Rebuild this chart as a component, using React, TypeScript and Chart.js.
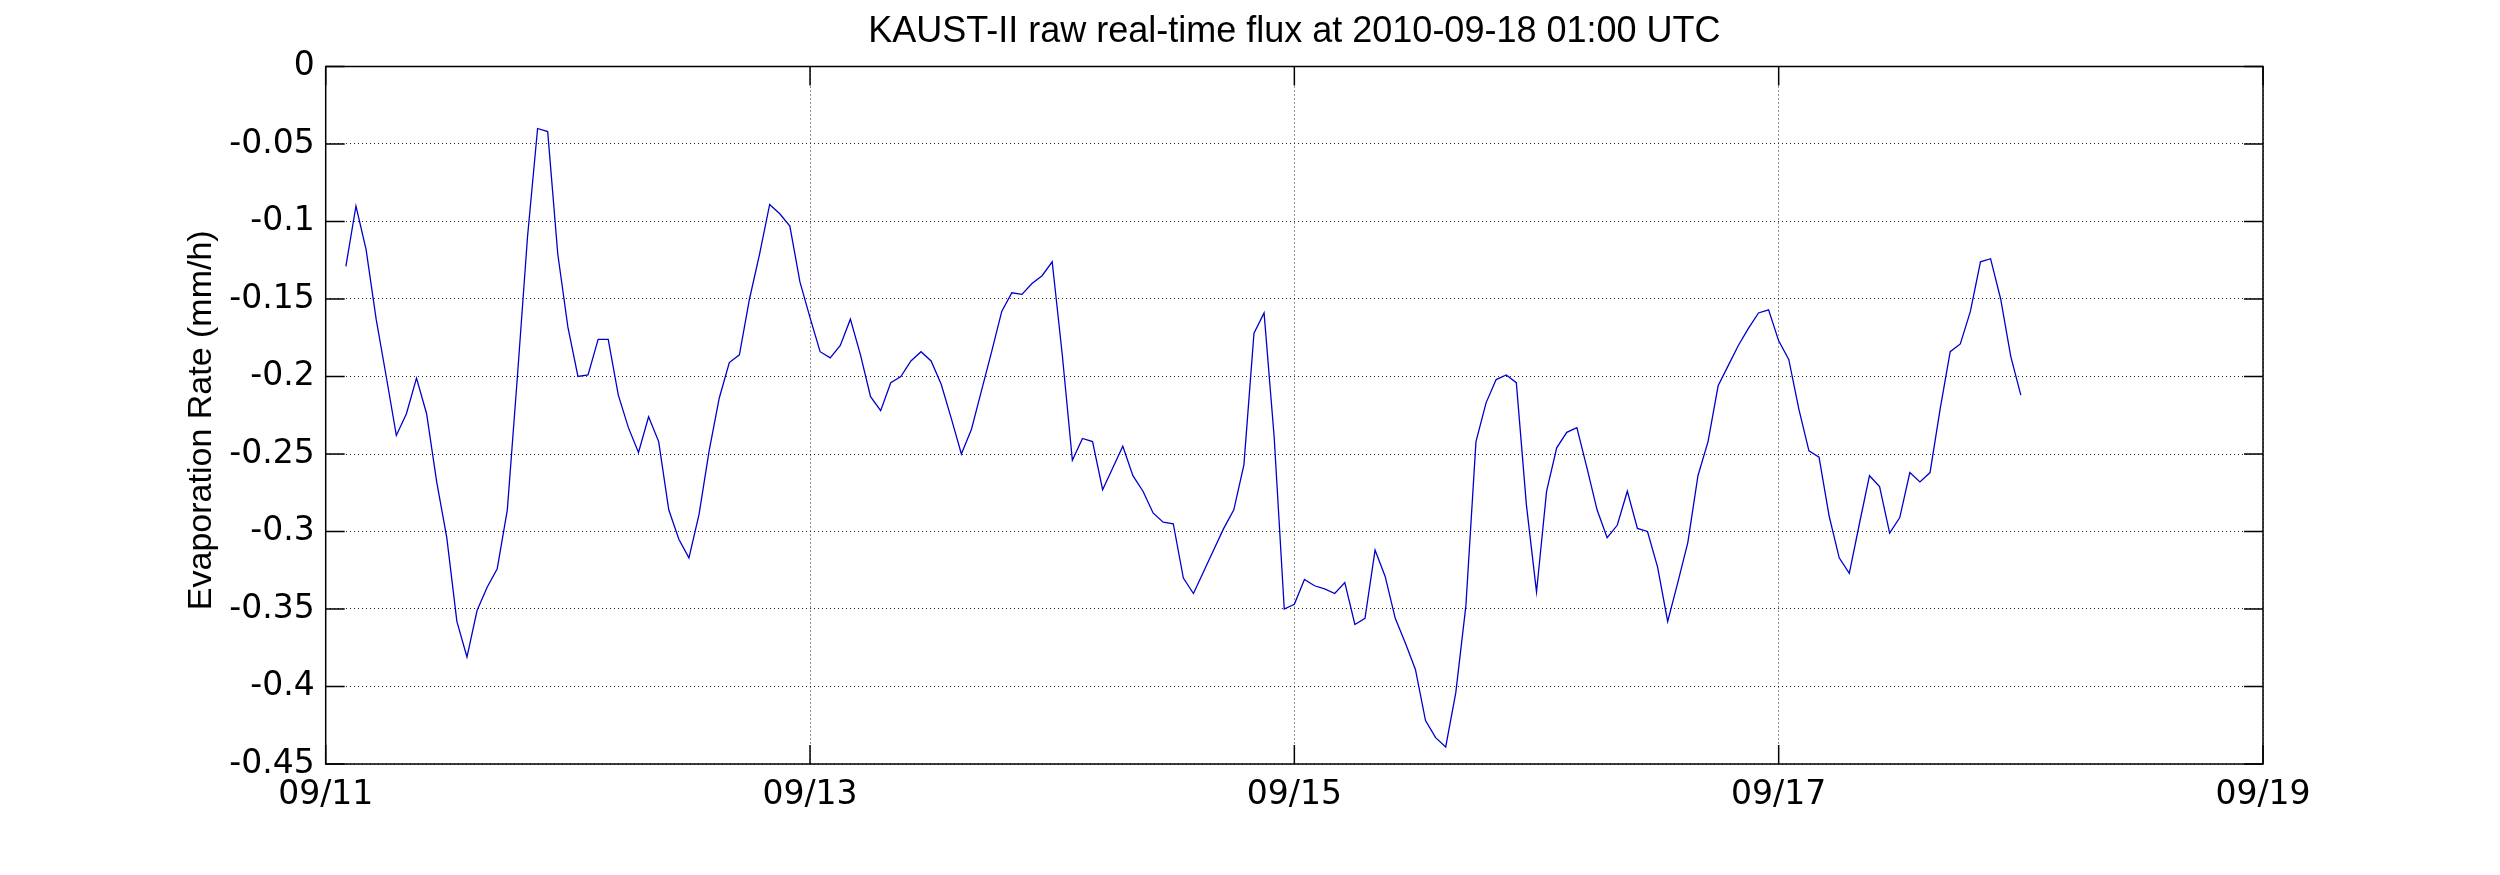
import React, { useEffect, useRef } from "react";
import { Chart, registerables } from "chart.js";

Chart.register(...registerables);

const titleText = "KAUST-II raw real-time flux at 2010-09-18 01:00 UTC";
const yAxisLabel = "Evaporation Rate (mm/h)";
const dateTickLabels = ["09/11", "09/13", "09/15", "09/17", "09/19"];
const hoursBetweenDateTicks = 48;
const firstSampleHour = 2; // 09/11 02:00 UTC
const sampleStepHours = 1;
const yTickValues = [0, -0.05, -0.1, -0.15, -0.2, -0.25, -0.3, -0.35, -0.4, -0.45];

// hourly evaporation rate (mm/h), 09/11 02:00 .. 09/18 00:00
const evaporationRate = [
  -0.129, -0.090, -0.118, -0.163, -0.200, -0.238, -0.224, -0.201, -0.224, -0.268,
  -0.304, -0.358, -0.381, -0.351, -0.336, -0.324, -0.286, -0.200, -0.110, -0.040,
  -0.042, -0.121, -0.168, -0.200, -0.199, -0.176, -0.176, -0.212, -0.233, -0.249,
  -0.226, -0.242, -0.286, -0.305, -0.317, -0.289, -0.248, -0.214, -0.191, -0.186,
  -0.150, -0.121, -0.089, -0.095, -0.103, -0.139, -0.162, -0.184, -0.188, -0.180,
  -0.163, -0.186, -0.213, -0.222, -0.204, -0.200, -0.190, -0.184, -0.190, -0.205,
  -0.227, -0.250, -0.234, -0.209, -0.184, -0.158, -0.146, -0.147, -0.140, -0.135,
  -0.126, -0.186, -0.254, -0.240, -0.242, -0.273, -0.259, -0.245, -0.264, -0.274,
  -0.288, -0.294, -0.295, -0.330, -0.340, -0.326, -0.312, -0.298, -0.286, -0.257,
  -0.172, -0.159, -0.239, -0.350, -0.347, -0.331, -0.335, -0.337, -0.340, -0.333,
  -0.360, -0.356, -0.312, -0.329, -0.356, -0.372, -0.389, -0.422, -0.433, -0.439,
  -0.404, -0.348, -0.242, -0.217, -0.202, -0.199, -0.204, -0.283, -0.339, -0.274,
  -0.246, -0.236, -0.233, -0.259, -0.286, -0.304, -0.296, -0.274, -0.298, -0.300,
  -0.323, -0.358, -0.333, -0.307, -0.264, -0.242, -0.206, -0.193, -0.180, -0.169,
  -0.159, -0.157, -0.177, -0.189, -0.221, -0.248, -0.252, -0.290, -0.317, -0.327,
  -0.295, -0.264, -0.271, -0.301, -0.291, -0.262, -0.268, -0.262, -0.221, -0.184,
  -0.179, -0.158, -0.126, -0.124, -0.150, -0.187, -0.212,
];

const TICK_FONT = "DejaVu Sans";
const LABEL_FONT = "Liberation Sans";

export default function App() {
  const canvasRef = useRef<HTMLCanvasElement | null>(null);

  useEffect(() => {
    const canvas = canvasRef.current;
    if (!canvas) return;

    const points = evaporationRate.map((v, i) => ({
      x: firstSampleHour + i * sampleStepHours,
      y: v,
    }));

    const framePlugin = {
      id: "matlabFrame",
      afterDatasetsDraw(chart: any) {
        const { ctx, chartArea } = chart;
        const { left, right, top, bottom } = chartArea;
        const xs = chart.scales.x;
        const ys = chart.scales.y;
        const tickLen = 19;
        ctx.save();
        ctx.strokeStyle = "#000";
        ctx.lineWidth = 1.5;
        ctx.beginPath();
        ctx.rect(left, top, right - left, bottom - top);
        ctx.stroke();
        ctx.beginPath();
        yTickValues.forEach((v) => {
          const py = ys.getPixelForValue(v);
          ctx.moveTo(left, py);
          ctx.lineTo(left + tickLen, py);
          ctx.moveTo(right, py);
          ctx.lineTo(right - tickLen, py);
        });
        dateTickLabels.forEach((_, i) => {
          const px = xs.getPixelForValue(i * hoursBetweenDateTicks);
          ctx.moveTo(px, bottom);
          ctx.lineTo(px, bottom - tickLen);
          ctx.moveTo(px, top);
          ctx.lineTo(px, top + tickLen);
        });
        ctx.stroke();
        ctx.restore();
      },
      afterDraw(chart: any) {
        const { ctx, chartArea } = chart;
        ctx.save();
        ctx.fillStyle = "#000";
        ctx.font = `36px "${LABEL_FONT}"`;
        ctx.textAlign = "center";
        ctx.textBaseline = "alphabetic";
        ctx.fillText(titleText, (chartArea.left + chartArea.right) / 2, 42);
        ctx.translate(211, (chartArea.top + chartArea.bottom) / 2 + 5);
        ctx.rotate(-Math.PI / 2);
        ctx.font = `34px "${LABEL_FONT}"`;
        ctx.fillText(yAxisLabel, 0, 0);
        ctx.restore();
      },
    };

    const chart = new Chart(canvas, {
      type: "line",
      data: {
        datasets: [
          {
            data: points,
            borderColor: "#0000cc",
            borderWidth: 1.3,
            pointRadius: 0,
            tension: 0,
            fill: false,
          },
        ],
      },
      options: {
        responsive: false,
        animation: false,
        devicePixelRatio: 1,
        layout: { padding: { left: 0, top: 66.5, right: 237, bottom: 0 } },
        plugins: {
          legend: { display: false },
          tooltip: { enabled: false },
          title: { display: false },
        },
        scales: {
          x: {
            type: "linear",
            min: 0,
            max: dateTickLabels.length * hoursBetweenDateTicks - hoursBetweenDateTicks,
            afterFit(scale: any) {
              scale.height = 111;
            },
            afterBuildTicks(scale: any) {
              scale.ticks = dateTickLabels.map((_, i) => ({ value: i * hoursBetweenDateTicks }));
            },
            ticks: {
              autoSkip: false,
              maxRotation: 0,
              minRotation: 0,
              padding: 12,
              color: "#000",
              font: { family: TICK_FONT, size: 33 },
              callback: (_v: any, i: number) => dateTickLabels[i],
            },
            grid: { color: "#222", lineWidth: 1, drawTicks: false, tickLength: 0 },
            border: { display: false, dash: [1, 3] },
          },
          y: {
            type: "linear",
            min: -0.45,
            max: 0,
            afterFit(scale: any) {
              scale.width = 325.7;
            },
            afterBuildTicks(scale: any) {
              scale.ticks = yTickValues.map((v) => ({ value: v }));
            },
            ticks: {
              padding: 11,
              color: "#000",
              font: { family: TICK_FONT, size: 33 },
              callback: (v: any) => {
                const n = Math.round(Number(v) * 100) / 100;
                return n === 0 ? "0" : String(n);
              },
            },
            grid: { color: "#222", lineWidth: 1, drawTicks: false, tickLength: 0 },
            border: { display: false, dash: [1, 3] },
          },
        },
      },
      plugins: [framePlugin],
    } as any);

    return () => chart.destroy();
  }, []);

  return (
    <div style={{ position: "fixed", left: 0, top: 0, width: 2500, height: 875, background: "#fff" }}>
      <canvas ref={canvasRef} width={2500} height={875} style={{ display: "block", width: 2500, height: 875 }} />
    </div>
  );
}
